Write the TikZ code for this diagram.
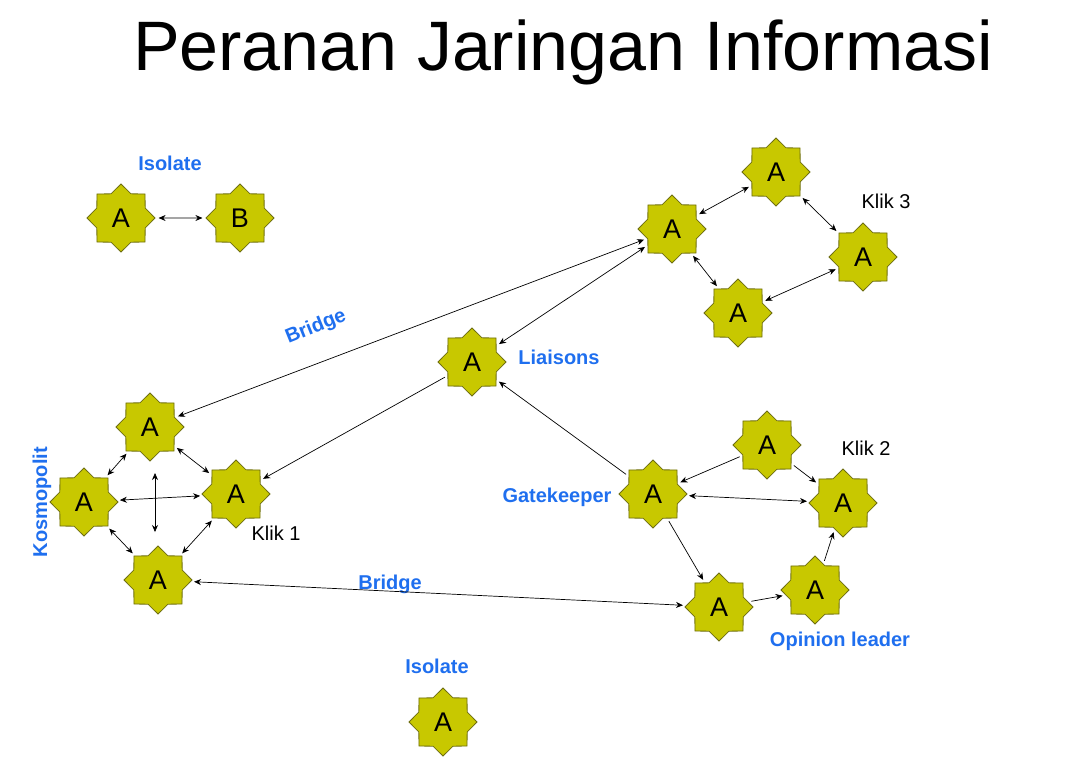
\documentclass[tikz,border=0pt]{standalone}
\usepackage{fontspec}
\setmainfont{Liberation Sans}
\usetikzlibrary{shapes.geometric,arrows.meta}
\definecolor{starfill}{HTML}{C8C800}
\definecolor{staredge}{HTML}{6E6E10}
\definecolor{lblue}{HTML}{1F6FEF}
\begin{document}
\begin{tikzpicture}[x=1pt,y=-1pt,
  st/.style={star,star points=8,star point ratio=1.3,minimum size=68pt,inner sep=0pt,fill=starfill,draw=staredge,line width=0.8pt,font=\fontsize{27}{27}\selectfont},
  bl/.style={text=lblue,font=\bfseries\fontsize{20}{20}\selectfont},
  kl/.style={font=\fontsize{20}{20}\selectfont},
  da/.style={{Stealth[length=7pt,width=6pt]}-{Stealth[length=7pt,width=6pt]},line width=0.7pt,shorten <=3pt,shorten >=3pt},
  sa/.style={-{Stealth[length=7pt,width=6pt]},line width=0.7pt,shorten <=3pt,shorten >=3pt}]
\useasboundingbox[fill=white] (0,0) rectangle (1066,777);
\node (title) at (563,52) {\fontsize{70}{70}\selectfont Peranan Jaringan Informasi};
\node[st] (ia) at (121,218) {A};
\node[st] (ib) at (240,218) {B};
\node[st] (t1) at (672,229) {A};
\node[st] (t2) at (776,172) {A};
\node[st] (t3) at (863,257) {A};
\node[st] (t4) at (738,313) {A};
\node[st] (li) at (472,362) {A};
\node[st] (k1t) at (150,427) {A};
\node[st] (k1l) at (84,502) {A};
\node[st] (k1r) at (236,494) {A};
\node[st] (k1b) at (158,580) {A};
\node[st] (gk) at (653,494) {A};
\node[st] (ga) at (767,445) {A};
\node[st] (k2) at (843,503) {A};
\node[st] (ol) at (815,590) {A};
\node[st] (ob) at (719,607) {A};
\node[st] (is2) at (443,722) {A};
\node[bl] (l1) at (170,163) {Isolate};
\node[bl,rotate=22,inner sep=0pt] (l2) at (316,327) {Bridge};
\node[bl] (l3) at (559,357) {Liaisons};
\node[bl,rotate=90] (l4) at (42,502) {Kosmopolit};
\node[kl] (l5) at (276,533) {Klik 1};
\node[bl] (l6) at (390,584) {Bridge};
\node[bl] (l7) at (557,497) {Gatekeeper};
\node[kl] (l8) at (866,448) {Klik 2};
\node[bl] (l9) at (840,641) {Opinion leader};
\node[bl] (l10) at (437,666) {Isolate};
\node[kl] (l11) at (886,201) {Klik 3};
\draw[da] (ia) -- (ib);
\draw[da] (k1t) -- (t1);
\draw[da] (li) -- (t1);
\draw[sa] (li) -- (k1r);
\draw[sa] (gk) -- (li);
\draw[da] (k1t) -- (k1l);
\draw[da] (k1t) -- (k1r);
\draw[da] (k1l) -- (k1b);
\draw[da] (k1r) -- (k1b);
\draw[da] (k1l) -- (k1r);
\draw[da] (155,470) -- (155,535);
\draw[da] (k1b) -- (ob);
\draw[da] (t1) -- (t2);
\draw[da] (t2) -- (t3);
\draw[da] (t1) -- (t4);
\draw[da] (t4) -- (t3);
\draw[sa] (ga) -- (gk);
\draw[sa] (ga) -- (k2);
\draw[da] (gk) -- (k2);
\draw[sa] (gk) -- (ob);
\draw[sa] (ob) -- (ol);
\draw[sa] (ol) -- (k2);
\end{tikzpicture}
\end{document}
